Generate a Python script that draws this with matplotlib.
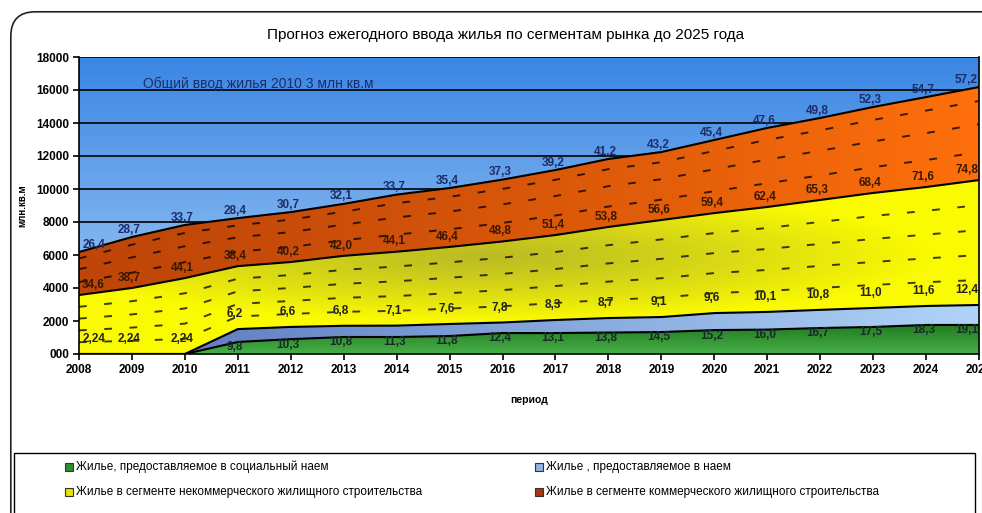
import numpy as np
import matplotlib
matplotlib.use("Agg")
import matplotlib.pyplot as plt
from matplotlib.colors import to_rgb
from matplotlib.patches import FancyBboxPatch, Rectangle

plt.rcParams['font.family'] = ['Liberation Sans Narrow', 'Liberation Sans', 'DejaVu Sans']

# ---------------- data ----------------
years = list(range(2008, 2026))
social = [0, 0, 0, 730, 900, 1030, 1030, 1090, 1270, 1270, 1300, 1330, 1450, 1480, 1575, 1640, 1760, 1760]
rent = [0, 0, 0, 780, 740, 680, 690, 730, 640, 790, 880, 910, 1030, 1070, 1100, 1150, 1150, 1210]
noncomm = [3575, 4000, 4600, 3815, 3935, 4240, 4480, 4670, 4910, 5150, 5520, 5880, 6060, 6360, 6660, 6970, 7210, 7570]
comm = [2605, 3090, 3220, 2910, 3025, 3150, 3460, 3570, 3750, 3940, 4120, 4120, 4430, 4790, 4970, 5210, 5450, 5640]

lbl_comm = ["26,4", "28,7", "33,7", "28,4", "30,7", "32,1", "33,7", "35,4", "37,3", "39,2",
            "41,2", "43,2", "45,4", "47,6", "49,8", "52,3", "54,7", "57,2"]
lbl_noncomm = ["34,6", "38,7", "44,1", "38,4", "40,2", "42,0", "44,1", "46,4", "48,8", "51,4",
               "53,8", "56,6", "59,4", "62,4", "65,3", "68,4", "71,6", "74,8"]
lbl_rent = ["2,24", "2,24", "2,24", "6,2", "6,6", "6,8", "7,1", "7,6", "7,8", "8,3",
            "8,7", "9,1", "9,6", "10,1", "10,8", "11,0", "11,6", "12,4"]
lbl_social = ["", "", "", "9,8", "10,3", "10,8", "11,3", "11,8", "12,4", "13,1",
              "13,8", "14,5", "15,2", "16,0", "16,7", "17,5", "18,3", "19,1"]

yticks = list(range(0, 18001, 2000))
ytick_labels = ["000", "2000", "4000", "6000", "8000", "10000", "12000", "14000", "16000", "18000"]

title = "Прогноз ежегодного ввода жилья по сегментам рынка до 2025 года"
note = "Общий ввод жилья 2010 3 млн кв.м"
names = ["Жилье, предоставляемое в социальный наем",
         "Жилье , предоставляемое в наем",
         "Жилье в сегменте некоммерческого жилищного строительства",
         "Жилье в сегменте коммерческого жилищного строительства"]

# ---------------- figure ----------------
W, H = 982, 513
fig = plt.figure(figsize=(W / 100, H / 100), dpi=100)
fig.patch.set_facecolor('white')

# outer rounded chart frame
frame = FancyBboxPatch((0.011, -0.05), 1.05, 1.027, boxstyle="round,pad=0,rounding_size=0.025",
                       transform=fig.transFigure, facecolor='white', edgecolor='#222222', lw=1.2,
                       mutation_aspect=W / H, zorder=-10)
fig.patches.append(frame)

ax = fig.add_axes([79 / W, 159 / H, 900 / W, 297 / H])
x = np.array(years, dtype=float)
s = np.array(social, float)
r = np.array(rent, float)
n = np.array(noncomm, float)
c = np.array(comm, float)
b0 = np.zeros_like(x)
b1 = s
b2 = s + r
b3 = s + r + n
b4 = s + r + n + c

X0, X1, Y0, Y1 = 2008, 2025, 0, 18000
ax.set_xlim(X0, X1)
ax.set_ylim(Y0, Y1)


def mix(c1, c2, t):
    c1 = np.array(to_rgb(c1)); c2 = np.array(to_rgb(c2))
    t = np.clip(t, 0, 1)[..., None]
    return c1 * (1 - t) + c2 * t


N = 200
gx, gy = np.meshgrid(np.linspace(0, 1, N), np.linspace(0, 1, N))
ext = (X0, X1, Y0, Y1)

# background
bg = mix('#a9d0f5', '#3a86e4', gy)
ax.imshow(bg, extent=ext, origin='lower', aspect='auto', zorder=0)


def grad_fill(lo, hi, img, z):
    poly = ax.fill_between(x, lo, hi, facecolor='none', lw=0, zorder=z)
    im = ax.imshow(img, extent=ext, origin='lower', aspect='auto', zorder=z)
    im.set_clip_path(poly.get_paths()[0], ax.transData)


# commercial (orange)
img_c = mix('#bf4608', '#ff700c', gx ** 1.3)
grad_fill(b3, b4, img_c, 1)
# non-commercial (yellow) with olive centre
dist = np.sqrt(((gx - 0.45) / 0.5) ** 2 + ((gy - 0.33) / 0.22) ** 2)
img_n = mix('#bcbc24', '#fafa02', dist ** 1.2)
grad_fill(b2, b3, img_n, 1)
# rent (light blue)
img_r = mix('#5674ba', '#b0d4f8', gx)
grad_fill(b1, b2, img_r, 1)
# social (green)
img_s = mix('#46ae46', '#207a20', gy * 10)
grad_fill(b0, b1, img_s, 1)

# grid lines
for v in yticks[1:]:
    ax.axhline(v, color='black', lw=1.2, zorder=0.5)

# boundaries
for bb in (b1, b2, b3, b4):
    ax.plot(x, bb, color='black', lw=1.5, zorder=3)

# dashed texture lines inside layers
for f in (0.3, 0.6, 0.85):
    ax.plot(x, b3 + f * (b4 - b3), color='black', lw=1.4, ls=(0, (4, 9)), zorder=2, alpha=0.75)
for f in (0.2, 0.4, 0.6, 0.8):
    ax.plot(x, b2 + f * (b3 - b2), color='black', lw=1.4, ls=(0, (4, 9)), zorder=2, alpha=0.75)

# data labels
last = len(x) - 1
for i, xv in enumerate(x):
    if i == 0:
        ha, xx = 'left', xv + 0.06
    elif i == last:
        ha, xx = 'right', xv - 0.02
    else:
        ha, xx = 'center', xv - 0.05
    kw = dict(ha=ha, va='center', fontsize=8.5, fontweight='bold', zorder=5)
    ax.text(xx, b4[i] + 450, lbl_comm[i], color='#1c2c6a', **kw)
    ax.text(xx, b3[i] + 620, lbl_noncomm[i], color='#3a1800', **kw)
    ax.text(xx, b2[i] + 900, lbl_rent[i], color='#222222', **kw)
    if lbl_social[i]:
        ax.text(xx, b1[i] - 330, lbl_social[i], color='#1a2a2a', **kw)

ax.text(2009.2, 16400, note, ha='left', va='center', fontsize=10, color='#1c2c6a', zorder=5)

# axes styling
ax.set_xticks(years)
ax.set_xticklabels([str(y) for y in years], fontsize=8.5, fontweight='bold')
ax.set_yticks(yticks)
ax.set_yticklabels(ytick_labels, fontsize=8.5, fontweight='bold')
ax.tick_params(direction='out', length=4, width=1.2, pad=3)
for sp in ax.spines.values():
    sp.set_linewidth(1.2)
ax.spines['top'].set_visible(False)
ax.set_ylabel("млн.кв.м", fontsize=7, fontweight='bold', labelpad=6)
ax.set_xlabel("период", fontsize=7.5, fontweight='bold', labelpad=14)

fig.text(0.515, 0.932, title, ha='center', va='center', fontsize=11)

# legend (manual layout)
cols = ['#2e8e2e', '#8fb4e6', '#e6e200', '#a8380a']
fig.patches.append(Rectangle((14 / W, -0.02), 961 / W, (H - 453) / H + 0.02,
                             transform=fig.transFigure, facecolor='white', edgecolor='black',
                             lw=1.0, zorder=5))
pos = [(65, 467), (535, 467), (65, 492), (535, 492)]
for k, (px, py) in enumerate(pos):
    fig.patches.append(Rectangle((px / W, 1 - (py + 4) / H), 8 / W, 8 / H,
                                 transform=fig.transFigure, facecolor=cols[k],
                                 edgecolor='#333333', lw=0.8, zorder=6))
    fig.text((px + 11) / W, 1 - py / H, names[k], ha='left', va='center', fontsize=8.5, zorder=7)

fig.savefig("out.png", dpi=100)
